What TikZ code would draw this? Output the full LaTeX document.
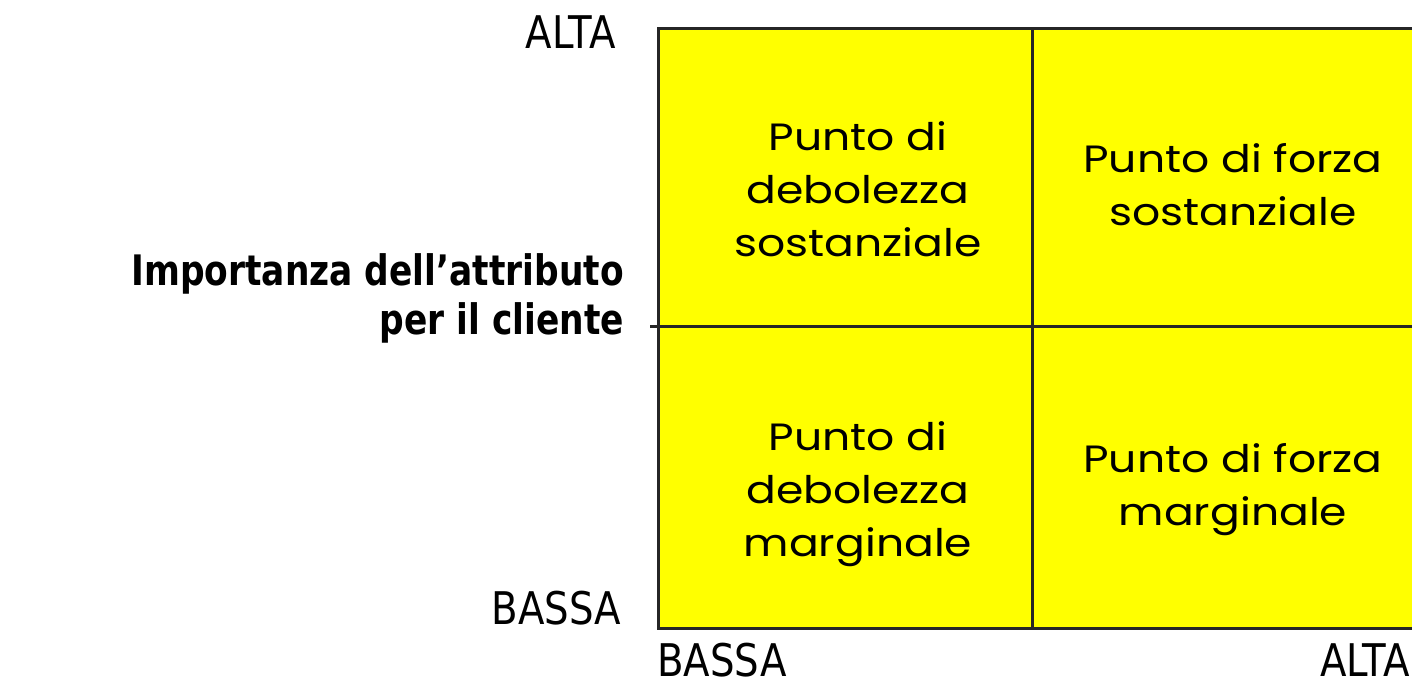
\documentclass[tikz,border=0pt]{standalone}
\usepackage{fontspec}
\newfontfamily\labfont[FakeStretch=0.86]{DejaVu Sans}
\newfontfamily\titlefont[FakeStretch=0.82]{DejaVu Sans}
\newfontfamily\cellfont[FakeStretch=1.16]{Poppins}
\definecolor{cellyellow}{RGB}{255,255,0}
\tikzset{axislab/.style={font=\labfont\fontsize{45}{54}\selectfont, inner sep=0pt, text depth=0pt}}
\tikzset{titlelab/.style={font=\titlefont\bfseries\fontsize{42}{49}\selectfont, align=right, inner sep=0pt}}
\tikzset{cell/.style={font=\cellfont\fontsize{38}{53}\selectfont, align=center, inner sep=0pt}}
\tikzset{gridline/.style={draw=black!85, line width=3pt}}

\begin{document}
\begin{tikzpicture}[x=1pt,y=-1pt]
  \clip (0,0) rectangle (1412,683);
  \fill[white] (0,0) rectangle (1412,683);
  \coordinate (nw) at (658,28);
  \coordinate (sw) at (658,628);
  \coordinate (ne) at (1420,28);
  \coordinate (se) at (1420,628);
  \coordinate (midtop) at (1032,28);
  \coordinate (midbot) at (1032,628);
  \coordinate (stub) at (650,326);
  \coordinate (midright) at (1420,326);
  \fill[cellyellow] (nw) rectangle (se);
  \draw[gridline] (ne) -- (nw) -- (sw) -- (se);
  \draw[gridline] (midtop) -- (midbot);
  \draw[gridline] (stub) -- (midright);
  % quadrants
  \foreach \name/\x/\y/\txt in {
    weaksub/858/189/{Punto di\\debolezza\\sostanziale},
    strongsub/1233/185/{Punto di forza\\sostanziale},
    weakmarg/858/494/{Punto di\\debolezza\\marginale},
    strongmarg/1233/490/{Punto di forza\\marginale}%
  } {
    \node[cell] (\name) at (\x,\y) {\txt};
  }
  % axis labels
  \node[axislab, anchor=base east] (hightop) at (616,48) {ALTA};
  \node[axislab, anchor=base east] (lowleft) at (621,624) {BASSA};
  \node[axislab, anchor=base west] (lowbottom) at (657,676) {BASSA};
  \node[axislab, anchor=base east] (highbottom) at (1410,676) {ALTA};
  \node[titlelab, anchor=base east] (title) at (624,334) {Importanza dell’attributo\\per il cliente};
\end{tikzpicture}
\end{document}
